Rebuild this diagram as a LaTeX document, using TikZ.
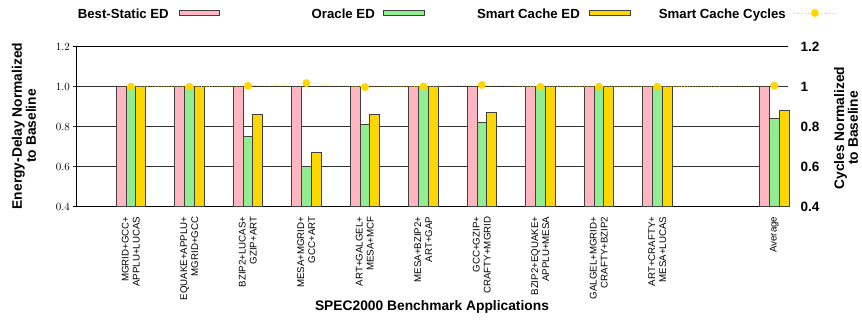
\documentclass[tikz,border=0pt]{standalone}
\usepackage{fontspec}
\setmainfont{Liberation Sans}
\definecolor{bpink}{HTML}{FFB6C1}
\definecolor{bgreen}{HTML}{90EE90}
\definecolor{bgold}{HTML}{FFD700}
\begin{document}
\begin{tikzpicture}[x=1pt,y=-1pt,
  bar/.style={draw=black!75,line width=0.8pt},
  gridline/.style={draw=black!80,line width=0.9pt},
  axisline/.style={draw=black,line width=1pt},
  leglbl/.style={font=\bfseries\fontsize{13.2}{15}\selectfont,inner sep=0pt,anchor=base east},
  axlbl/.style={font=\bfseries\fontsize{13.8}{12.5}\selectfont,inner sep=0pt,align=center},
  lticklbl/.style={font=\fontsize{11}{13}\selectfont,inner sep=0pt,anchor=east},
  rticklbl/.style={font=\bfseries\fontsize{13.5}{15}\selectfont,inner sep=0pt,anchor=west},
  xticklbl/.style={font=\fontsize{9.7}{11}\selectfont,inner sep=0pt,rotate=90,anchor=east,align=right},
  cycdot/.style={circle,fill=bgold,inner sep=0pt,minimum size=8pt},
  cycline/.style={draw=bgold,dotted,line width=0.7pt}]
\useasboundingbox (0,0) rectangle (862,320);
% grid and axes
\foreach \v in {0.6,0.8,1.0}{
  \draw[gridline] (73.3,{286.7-200*\v}) -- (788.3,{286.7-200*\v});
}
\draw[axisline] (73.3,46.7) -- (788.3,46.7);
\draw[axisline] (73.3,206.7) -- (788.3,206.7);
\draw[axisline] (76,46.7) -- (76,206.7);
% left tick labels
\foreach \v/\n in {1.2/a,1.0/b,0.8/c,0.6/d,0.4/e}{
  \node[lticklbl] (lt\n) at (70,{286.7-200*\v}) {\pgfmathprintnumber[fixed,fixed zerofill,precision=1]{\v}};
}
% right tick labels
\node[rticklbl] (rta) at (800.5,46.7) {1.2};
\node[rticklbl] (rtb) at (800.5,86.7) {1};
\node[rticklbl] (rtc) at (800.5,126.7) {0.8};
\node[rticklbl] (rtd) at (800.5,166.7) {0.6};
\node[rticklbl] (rte) at (800.5,206.7) {0.4};
% bars
\foreach \i/\g/\yv/\t in {
  1/1.0/1.0/{MGRID+GCC+\\APPLU+LUCAS},
  2/1.0/1.0/{EQUAKE+APPLU+\\MGRID+GCC},
  3/0.75/0.86/{BZIP2+LUCAS+\\GZIP+ART},
  4/0.6/0.67/{MESA+MGRID+\\GCC+ART},
  5/0.81/0.86/{ART+GALGEL+\\MESA+MCF},
  6/1.0/1.0/{MESA+BZIP2+\\ART+GAP},
  7/0.82/0.87/{GCC+GZIP+\\CRAFTY+MGRID},
  8/1.0/1.0/{BZIP2+EQUAKE+\\APPLU+MESA},
  9/1.0/1.0/{GALGEL+MGRID+\\CRAFTY+BZIP2},
  10/1.0/1.0/{ART+CRAFTY+\\MESA+LUCAS},
  12/0.84/0.88/{Average}}{
  \pgfmathsetmacro{\L}{116.3+(\i-1)*58.5}
  \pgfmathsetmacro{\C}{\L+14.6}
  \draw[bar,fill=bpink] (\L,206.7) rectangle ({\L+9.75},86.7);
  \draw[bar,fill=bgreen] ({\L+9.75},206.7) rectangle ({\L+19.5},{286.7-200*\g});
  \draw[bar,fill=bgold] ({\L+19.5},206.7) rectangle ({\L+29.25},{286.7-200*\yv});
  \node[xticklbl] (xl\i) at (\C,216.5) {\t};
}
% cycles line
\coordinate (d1) at (130.9,86.7);
\coordinate (d2) at (189.4,86.7);
\coordinate (d3) at (247.9,85.9);
\coordinate (d4) at (306.4,83.1);
\coordinate (d5) at (364.9,87.1);
\coordinate (d6) at (423.4,86.5);
\coordinate (d7) at (481.9,84.9);
\coordinate (d8) at (540.4,86.7);
\coordinate (d9) at (598.9,86.7);
\coordinate (d10) at (657.4,86.7);
\coordinate (d12) at (774.4,85.7);
\draw[cycline] (d1) -- (d2) -- (d3) -- (d4) -- (d5) -- (d6) -- (d7) -- (d8) -- (d9) -- (d10) -- (d12);
\foreach \k in {1,2,3,4,5,6,7,8,9,10,12}{
  \node[cycdot] (dot\k) at (d\k) {};
}
% axis labels
\node[axlbl,rotate=90] (ylab) at (24,126) {Energy-Delay Normalized\\to Baseline};
\node[axlbl,rotate=90] (y2lab) at (846,128) {Cycles Normalized\\to Baseline};
\node[axlbl] (xlab) at (432,306.7) {SPEC2000 Benchmark Applications};
% legend
\node[leglbl] (lg1) at (169,18.3) {Best-Static ED};
\draw[bar,fill=bpink] (179,10.5) rectangle (219,15.5);
\node[leglbl] (lg2) at (375,18.3) {Oracle ED};
\draw[bar,fill=bgreen] (383,10.5) rectangle (424,15.5);
\node[leglbl] (lg3) at (580,18.3) {Smart Cache ED};
\draw[bar,fill=bgold] (589,10.5) rectangle (630,15.5);
\node[leglbl] (lg4) at (786,18.3) {Smart Cache Cycles};
\coordinate (lgA) at (794,13);
\coordinate (lgB) at (835,13);
\draw[cycline] (lgA) -- (lgB);
\node[cycdot] (lgdot) at (815,13) {};
\end{tikzpicture}
\end{document}
